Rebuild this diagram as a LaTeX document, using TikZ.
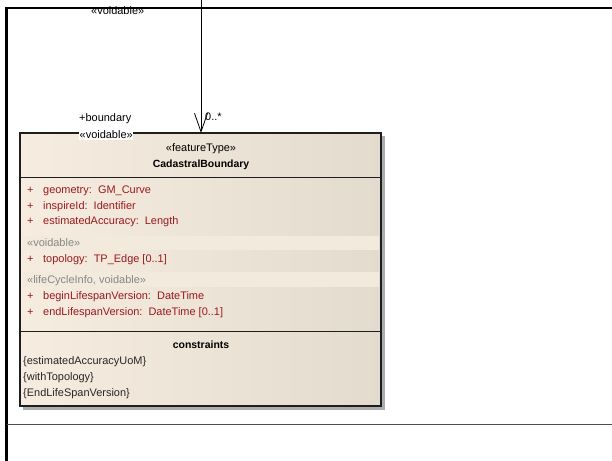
\documentclass[tikz,border=0pt]{standalone}
\usepackage{fontspec}
\setmainfont{Liberation Sans}
\usetikzlibrary{arrows.meta}
\definecolor{attrred}{RGB}{155,25,30}
\definecolor{stereogray}{RGB}{135,135,135}
\definecolor{boxleft}{RGB}{246,237,224}
\definecolor{boxright}{RGB}{227,219,205}
\definecolor{bandfill}{RGB}{242,234,221}
\definecolor{edge}{RGB}{30,30,30}
\begin{document}
\begin{tikzpicture}[x=1bp,y=-1bp,
  txt/.style={font=\fontsize{11}{13}\selectfont, inner sep=0pt, anchor=base west},
  boldtxt/.style={txt, font=\fontsize{10.5}{12}\selectfont\bfseries, anchor=base},
  attr/.style={txt, text=attrred},
  stereo/.style={txt, text=stereogray},
  constr/.style={txt, text=black!85},
  assoc/.style={draw=black, line width=0.8bp, -{Straight Barb[length=18.5bp,width=13bp]}},
  divider/.style={draw=edge, line width=1bp}]
\useasboundingbox (0,0) rectangle (612,461);
\fill[white] (0,0) rectangle (612,461);

% class box: shadow, gradient body, stereotype bands, outline
\fill[black!32] (23,136) rectangle (385,410);
\shade[left color=boxleft, right color=boxright] (20,133) rectangle (381,406);
\fill[bandfill] (23,236) rectangle (379,250);
\fill[bandfill] (23,272) rectangle (379,287);
\draw[edge, line width=1.1bp] (20,133) rectangle (381,406);
\draw[divider] (20,178) -- (381,178);
\draw[divider] (20,331) -- (382,331);
\coordinate (boxtop) at (201,133);
\coordinate (src) at (201,0);

% header
\node[txt, anchor=base] (st) at (201,152) {«featureType»};
\node[boldtxt] (name) at (201,167.3) {CadastralBoundary};

% attributes
\node[attr] (p1) at (27,193.5) {+};
\node[attr] (a1) at (43,193.5) {geometry:\ \ GM\_Curve};
\node[attr] (p2) at (27,209.3) {+};
\node[attr] (a2) at (43,209.3) {inspireId:\ \ Identifier};
\node[attr] (p3) at (27,225) {+};
\node[attr] (a3) at (43,225) {estimatedAccuracy:\ \ Length};
\node[stereo] (s1) at (27,247) {«voidable»};
\node[attr] (p4) at (27,263) {+};
\node[attr] (a4) at (43,263) {topology:\ \ TP\_Edge [0..1]};
\node[stereo] (s2) at (27,283.5) {«lifeCycleInfo, voidable»};
\node[attr] (p5) at (27,299.3) {+};
\node[attr] (a5) at (43,299.3) {beginLifespanVersion:\ \ DateTime};
\node[attr] (p6) at (27,315.3) {+};
\node[attr] (a6) at (43,315.3) {endLifespanVersion:\ \ DateTime [0..1]};

% constraints
\node[boldtxt] (ch) at (201,348.6) {constraints};
\node[constr] (c1) at (23,364.6) {\{estimatedAccuracyUoM\}};
\node[constr] (c2) at (23,380.4) {\{withTopology\}};
\node[constr] (c3) at (23,396.8) {\{EndLifeSpanVersion\}};

% association end labels
\node[txt] (srcst) at (91,15) {«voidable»};
\node[txt] (role) at (79,121.6) {+boundary};
\node[txt, fill=white, inner xsep=0.5bp, inner ysep=1.5bp] (rolest) at (79,138.5) {«voidable»};
\node[txt] (mult) at (205,120.5) {0..*};

% association
\draw[assoc] (src) -- (boxtop);

% frame
\draw[black, line width=2.6bp] (6.5,461) -- (6.5,8) -- (612,8);
\draw[black!70, line width=1.1bp] (6.5,424.5) -- (612,424.5);
\end{tikzpicture}
\end{document}
